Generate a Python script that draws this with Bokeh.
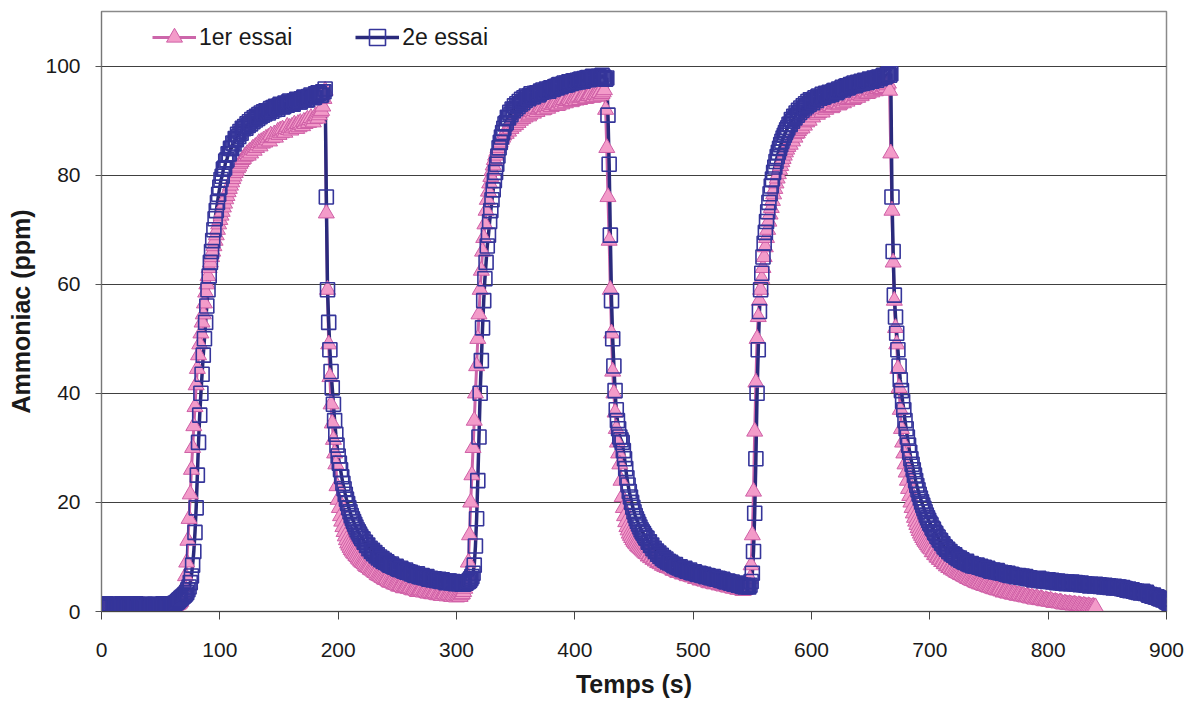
from bokeh.plotting import figure
from bokeh.models import Range1d, FixedTicker, Legend, LegendItem, ColumnDataSource
from bokeh.embed import file_html
from bokeh.resources import INLINE

# ---------------- data ----------------
sample_step_s = 1  # one reading per second

series_names = ["1er essai", "2e essai"]

# Ammoniac (ppm), 1er essai, t = 0, 1, 2, ... s
essai_1 = [
    0.6, 0.8, 0.9, 0.5, 0.5, 0.9, 0.8, 0.6, 1.0, 0.7, 0.6, 0.9, 0.7, 0.5, 0.9, 0.8, 0.5, 0.7, 0.8, 0.6,
    0.7, 0.9, 1.0, 0.6, 0.6, 0.8, 0.8, 0.5, 0.5, 0.9, 0.9, 0.6, 0.7, 0.8, 0.6, 0.5, 1.0, 0.8, 0.7, 0.6,
    0.8, 0.6, 0.5, 0.9, 0.9, 0.7, 0.7, 0.5, 0.6, 0.8, 0.8, 0.9, 1.0, 0.7, 0.7, 0.6, 0.6, 0.8, 0.9, 0.7,
    0.8, 0.9, 1.0, 1.1, 1.2, 1.3, 1.5, 1.8, 2.3, 3.2, 4.5, 6.5, 9.0, 13.0, 17.0, 21.5, 26.0, 30.0, 34.0, 37.5,
    41.5, 44.5, 47.0, 49.0, 51.0, 53.0, 54.5, 56.5, 58.5, 60.0, 61.5, 63.0, 64.0, 65.0, 66.0, 67.0, 68.0, 69.0, 70.0, 71.0,
    71.8, 72.6, 73.3, 74.1, 74.8, 75.6, 76.2, 76.9, 77.5, 78.1, 78.7, 79.3, 79.8, 80.4, 80.8, 81.3, 81.6, 82.1, 82.4, 82.8,
    83.0, 83.4, 83.5, 83.9, 83.6, 84.3, 84.0, 84.6, 84.9, 84.5, 85.2, 85.0, 85.5, 85.9, 85.3, 86.1, 85.8, 86.4, 86.0, 86.7,
    86.4, 86.9, 86.2, 87.3, 86.8, 87.0, 87.5, 86.9, 87.6, 88.0, 87.4, 88.2, 87.7, 88.4, 88.0, 87.8, 88.5, 88.9, 88.3, 88.7,
    88.2, 88.9, 88.6, 89.3, 88.9, 88.5, 89.4, 88.8, 89.6, 89.2, 89.0, 89.8, 89.4, 89.9, 90.2, 89.6, 90.1, 90.5, 90.0, 89.7,
    90.3, 90.9, 90.8, 90.4, 91.0, 91.5, 91.8, 92.6, 94.0, 95.5, 73.0, 59.0, 49.0, 43.0, 38.0, 34.5, 31.5, 29.0, 27.0, 23.0,
    20.5, 19.0, 17.5, 16.5, 15.5, 14.6, 13.8, 13.1, 12.5, 12.1, 11.7, 11.3, 11.0, 10.7, 10.5, 10.2, 10.0, 9.7, 9.5, 9.2,
    9.0, 8.9, 8.7, 8.4, 8.2, 8.1, 8.0, 7.7, 7.6, 7.5, 7.3, 7.1, 7.0, 6.7, 6.6, 6.5, 6.4, 6.2, 6.1, 5.9,
    5.8, 5.9, 5.6, 5.4, 5.3, 5.4, 5.2, 5.0, 5.0, 4.9, 4.8, 4.6, 4.6, 4.7, 4.5, 4.3, 4.3, 4.5, 4.4, 4.2,
    4.2, 4.3, 4.0, 3.9, 4.1, 4.0, 3.8, 3.6, 3.7, 3.9, 3.9, 3.6, 3.5, 3.7, 3.6, 3.4, 3.3, 3.5, 3.4, 3.2,
    3.2, 3.5, 3.4, 3.1, 3.0, 3.2, 3.1, 2.9, 2.9, 3.2, 3.2, 2.9, 2.8, 3.1, 3.0, 2.8, 2.7, 3.0, 2.9, 2.7,
    2.6, 2.9, 2.8, 2.7, 3.0, 3.2, 3.6, 4.2, 5.0, 6.5, 9.0, 14.0, 20.0, 25.0, 30.0, 35.0, 40.0, 45.0, 50.0, 54.5,
    59.0, 62.5, 66.0, 68.5, 71.0, 73.5, 75.5, 77.0, 78.5, 79.7, 80.8, 81.8, 82.8, 83.6, 84.3, 85.0, 85.5, 86.0, 86.5, 86.9,
    87.3, 87.8, 87.6, 88.4, 88.0, 88.9, 88.5, 89.3, 88.9, 89.7, 89.2, 90.1, 89.6, 90.4, 90.0, 90.7, 90.3, 91.1, 90.6, 91.4,
    91.3, 90.8, 91.1, 91.7, 91.6, 91.3, 91.8, 92.2, 91.6, 92.0, 92.1, 92.5, 92.3, 91.9, 92.0, 92.6, 92.5, 92.2, 92.7, 93.0,
    92.5, 92.9, 92.9, 93.3, 93.1, 92.7, 92.8, 93.4, 93.3, 93.0, 93.5, 93.8, 93.2, 93.6, 93.7, 94.0, 93.8, 93.4, 93.6, 94.1,
    94.0, 93.7, 94.1, 94.4, 93.8, 94.2, 94.3, 94.6, 94.4, 94.0, 94.1, 94.5, 94.6, 94.9, 94.5, 94.2, 94.3, 94.8, 94.7, 94.4,
    94.8, 95.1, 94.6, 94.9, 95.2, 95.6, 92.0, 85.0, 76.0, 68.0, 59.0, 51.0, 44.0, 40.0, 36.5, 33.5, 31.0, 29.0, 27.0, 24.0,
    21.0, 19.0, 17.5, 16.4, 15.5, 14.9, 14.3, 13.9, 13.5, 13.1, 12.8, 12.5, 12.3, 12.0, 11.8, 11.6, 11.4, 11.2, 11.0, 10.8,
    10.6, 10.5, 10.1, 10.2, 9.8, 9.9, 9.5, 9.6, 9.2, 9.4, 8.9, 9.1, 8.7, 8.8, 8.4, 8.6, 8.2, 8.4, 8.0, 8.2,
    7.9, 7.9, 7.7, 7.5, 7.5, 7.6, 7.3, 7.1, 7.2, 7.3, 7.0, 6.8, 6.9, 7.0, 6.7, 6.5, 6.6, 6.7, 6.4, 6.3,
    6.3, 6.4, 6.0, 6.1, 6.2, 5.9, 5.7, 5.8, 5.9, 5.6, 5.5, 5.7, 5.6, 5.3, 5.2, 5.4, 5.4, 5.1, 5.0, 5.2,
    5.1, 5.0, 4.8, 4.9, 5.0, 4.7, 4.6, 4.8, 4.7, 4.5, 4.4, 4.6, 4.6, 4.3, 4.2, 4.4, 4.3, 4.1, 4.0, 4.2,
    4.1, 4.0, 3.8, 3.9, 4.0, 4.2, 4.5, 5.0, 6.0, 8.5, 14.0, 22.0, 33.0, 42.0, 50.0, 54.0, 57.0, 59.0, 61.0, 63.0,
    65.0, 66.8, 68.5, 70.0, 71.5, 72.8, 74.0, 75.3, 76.5, 77.5, 78.5, 79.4, 80.2, 81.0, 81.7, 82.4, 83.0, 83.6, 84.2, 84.7,
    85.2, 85.8, 85.6, 86.6, 86.2, 87.3, 86.9, 87.6, 87.7, 88.1, 88.4, 88.9, 88.6, 89.6, 89.1, 89.8, 89.7, 90.5, 90.0, 90.9,
    90.9, 90.6, 91.2, 91.5, 91.6, 91.1, 91.4, 92.0, 91.9, 91.5, 92.2, 92.6, 92.0, 92.3, 92.5, 92.9, 92.7, 92.3, 92.5, 93.0,
    93.0, 93.4, 93.2, 92.8, 93.0, 93.6, 93.5, 93.2, 93.7, 94.0, 93.5, 93.8, 94.0, 94.4, 94.2, 93.8, 94.0, 94.6, 94.5, 94.2,
    94.7, 95.0, 94.5, 94.8, 95.0, 95.4, 95.2, 94.9, 95.0, 95.6, 95.5, 95.2, 95.6, 95.9, 95.4, 95.7, 95.8, 96.2, 96.0, 95.6,
    95.8, 96.3, 96.2, 96.0, 96.5, 96.8, 95.5, 84.0, 73.5, 64.0, 57.0, 52.0, 49.0, 44.5, 41.0, 37.0, 33.5, 31.0, 29.0, 27.0,
    25.5, 24.0, 22.5, 21.2, 20.0, 19.0, 18.0, 17.2, 16.5, 15.9, 15.3, 14.8, 14.3, 13.9, 13.5, 13.1, 12.8, 12.5, 12.2, 11.9,
    11.6, 11.4, 10.9, 10.9, 10.4, 10.3, 9.9, 9.9, 9.5, 9.5, 9.1, 9.1, 8.7, 8.7, 8.3, 8.4, 8.0, 8.0, 7.7, 7.8,
    7.5, 7.4, 7.2, 7.1, 7.0, 6.9, 6.7, 6.7, 6.5, 6.4, 6.3, 6.2, 6.0, 6.0, 5.8, 5.7, 5.6, 5.6, 5.4, 5.3,
    5.2, 5.2, 5.0, 5.1, 4.9, 4.8, 4.7, 4.8, 4.6, 4.5, 4.4, 4.5, 4.3, 4.2, 4.1, 4.2, 4.0, 3.9, 3.9, 4.0,
    3.7, 3.8, 3.5, 3.6, 3.6, 3.4, 3.3, 3.5, 3.4, 3.2, 3.1, 3.3, 3.2, 3.0, 2.9, 3.1, 3.0, 2.8, 2.8, 2.9,
    2.7, 2.6, 2.8, 2.7, 2.5, 2.4, 2.6, 2.5, 2.3, 2.2, 2.5, 2.4, 2.2, 2.1, 2.3, 2.2, 2.0, 1.9, 2.1, 2.0,
    1.9, 1.8, 2.0, 1.9, 1.7, 1.6, 1.8, 1.7, 1.6, 1.5, 1.7, 1.6, 1.4, 1.3, 1.5, 1.4, 1.3, 1.2, 1.4, 1.3,
    1.2, 1.1, 1.3, 1.2, 1.1, 1.0, 1.2, 1.1, 1.0, 0.9, 1.1, 1.0, 0.9, 0.8, 1.0, 0.9, 0.8, 0.7, 0.9, 0.8,
    0.8,
]

# Ammoniac (ppm), 2e essai, t = 0, 1, 2, ... s
essai_2 = [
    1.2, 1.0, 0.9, 1.3, 1.4, 1.1, 1.0, 0.8, 1.1, 1.2, 0.8, 1.3, 1.3, 1.0, 1.2, 0.9, 1.2, 1.4, 0.9, 1.0,
    1.1, 1.3, 1.4, 0.9, 0.9, 1.2, 1.2, 1.0, 1.0, 1.4, 1.3, 0.9, 0.8, 1.2, 1.1, 1.0, 1.2, 1.3, 0.9, 1.1,
    1.0, 1.2, 1.3, 0.9, 1.1, 1.3, 0.9, 1.0, 1.2, 1.1, 1.0, 0.9, 1.4, 1.2, 1.1, 1.3, 1.2, 1.0, 1.3, 1.4,
    1.3, 1.4, 1.5, 1.6, 1.8, 2.0, 2.2, 2.4, 2.6, 2.8, 3.0, 3.2, 3.5, 4.0, 4.5, 5.3, 6.5, 8.5, 11.0, 14.5,
    19.0, 25.0, 31.0, 36.0, 40.0, 43.5, 47.0, 50.0, 53.0, 56.0, 59.0, 61.5, 64.0, 66.0, 68.0, 70.0, 72.0, 73.5, 75.0, 76.5,
    77.8, 79.2, 79.8, 81.1, 81.3, 82.6, 82.8, 83.9, 83.9, 84.9, 84.9, 85.9, 85.7, 86.7, 86.5, 87.5, 87.1, 88.0, 87.7, 88.6,
    88.5, 88.9, 88.6, 89.4, 89.1, 89.8, 89.4, 90.2, 89.8, 90.5, 90.1, 90.8, 90.4, 91.1, 90.7, 91.4, 91.0, 91.6, 91.2, 91.8,
    91.6, 91.4, 91.9, 92.2, 91.7, 92.4, 92.0, 92.6, 92.4, 92.1, 92.7, 93.0, 92.9, 92.5, 92.6, 93.2, 93.1, 92.8, 93.4, 93.6,
    93.3, 93.1, 93.0, 93.6, 93.5, 93.9, 93.7, 93.4, 93.4, 94.0, 93.9, 94.3, 94.1, 93.8, 93.8, 94.4, 94.3, 94.7, 94.5, 94.2,
    94.3, 94.9, 94.8, 95.1, 95.0, 94.6, 94.7, 95.3, 95.3, 95.8, 76.0, 59.0, 53.0, 48.0, 44.0, 41.0, 38.0, 35.0, 32.5, 30.5,
    28.5, 27.2, 26.0, 24.7, 23.5, 22.5, 21.5, 20.6, 19.8, 19.0, 18.3, 17.6, 17.0, 16.5, 16.0, 15.5, 15.0, 14.6, 14.2, 13.8,
    13.4, 13.3, 12.7, 12.7, 12.1, 12.2, 11.5, 11.6, 11.0, 11.2, 10.6, 10.8, 10.2, 10.4, 9.8, 10.0, 9.5, 9.7, 9.2, 9.4,
    9.0, 9.1, 8.8, 8.6, 8.5, 8.7, 8.3, 8.2, 8.1, 8.3, 7.9, 7.8, 7.7, 7.9, 7.6, 7.5, 7.4, 7.6, 7.2, 7.3,
    7.1, 7.2, 6.9, 7.0, 6.8, 6.6, 6.7, 6.9, 6.5, 6.4, 6.4, 6.6, 6.3, 6.2, 6.2, 6.4, 6.0, 5.9, 6.1, 6.0,
    5.8, 6.0, 5.9, 5.7, 5.7, 5.9, 5.6, 5.5, 5.8, 5.6, 5.5, 5.3, 5.4, 5.6, 5.6, 5.3, 5.3, 5.5, 5.2, 5.1,
    5.4, 5.2, 5.1, 5.3, 5.3, 5.0, 5.0, 5.2, 5.2, 5.4, 5.5, 5.7, 6.0, 6.4, 7.0, 8.5, 12.0, 17.0, 24.0, 32.0,
    40.0, 46.0, 52.0, 57.0, 61.0, 64.0, 67.0, 69.0, 71.5, 73.5, 75.5, 77.3, 79.0, 80.5, 82.0, 83.5, 85.0, 86.0, 87.0, 87.8,
    88.6, 89.4, 89.6, 90.6, 90.5, 91.5, 91.1, 92.1, 91.8, 92.7, 92.2, 93.1, 92.6, 93.5, 93.0, 93.9, 93.3, 94.2, 93.7, 94.5,
    94.3, 94.0, 94.6, 94.9, 94.4, 94.4, 95.0, 94.9, 95.1, 94.7, 94.9, 95.4, 95.2, 95.6, 95.3, 95.4, 95.8, 95.6, 95.4, 95.9,
    96.0, 95.7, 95.8, 96.2, 96.3, 96.0, 96.5, 96.6, 96.2, 96.4, 96.7, 96.9, 96.5, 96.9, 96.6, 97.1, 97.0, 96.8, 97.2, 97.3,
    97.0, 97.2, 97.4, 97.1, 97.5, 97.6, 97.3, 97.2, 97.7, 97.5, 97.8, 97.9, 97.5, 97.6, 97.9, 98.1, 97.7, 98.0, 98.0, 97.8,
    98.1, 97.9, 97.9, 98.3, 98.0, 97.8, 97.6, 97.8, 91.0, 82.0, 69.0, 57.0, 50.0, 45.0, 40.5, 37.0, 35.0, 33.5, 32.0, 31.5,
    31.0, 29.5, 28.0, 26.2, 24.5, 23.2, 22.0, 21.0, 20.0, 19.1, 18.3, 17.6, 17.0, 16.5, 16.0, 15.5, 15.0, 14.6, 14.3, 13.9,
    13.5, 13.4, 12.7, 12.8, 12.1, 12.2, 11.5, 11.6, 11.0, 11.1, 10.5, 10.7, 10.1, 10.3, 9.7, 9.9, 9.4, 9.6, 9.1, 9.2,
    8.9, 9.0, 8.7, 8.6, 8.4, 8.6, 8.2, 8.1, 8.0, 8.2, 7.8, 7.7, 7.7, 7.9, 7.5, 7.4, 7.4, 7.6, 7.2, 7.1,
    7.1, 7.3, 7.0, 6.9, 6.8, 7.0, 6.9, 6.7, 6.6, 6.8, 6.5, 6.4, 6.6, 6.5, 6.3, 6.2, 6.2, 6.4, 6.0, 6.1,
    5.9, 6.1, 6.0, 5.8, 5.7, 5.9, 5.6, 5.5, 5.4, 5.6, 5.5, 5.3, 5.2, 5.4, 5.1, 5.0, 5.0, 5.2, 4.8, 4.9,
    4.9, 4.7, 4.6, 4.8, 4.5, 4.7, 4.6, 4.5, 4.8, 5.5, 7.0, 11.0, 18.0, 28.0, 40.0, 48.0, 55.0, 59.0, 62.0, 65.0,
    67.5, 69.5, 71.5, 73.3, 75.0, 76.6, 78.0, 79.3, 80.5, 81.5, 82.5, 83.4, 84.2, 84.9, 85.6, 86.2, 86.8, 87.3, 87.8, 88.3,
    88.7, 89.3, 89.3, 90.2, 89.9, 90.8, 90.5, 91.4, 91.0, 91.9, 91.5, 92.3, 91.9, 92.7, 92.3, 93.1, 92.7, 93.5, 93.0, 93.8,
    93.6, 93.3, 93.9, 94.2, 93.7, 94.3, 94.5, 94.1, 94.3, 94.8, 94.3, 94.5, 95.0, 94.8, 94.6, 95.2, 95.0, 94.8, 95.3, 95.5,
    95.5, 95.1, 95.3, 95.8, 95.6, 95.8, 96.1, 95.6, 95.9, 96.3, 96.4, 96.0, 96.2, 96.6, 96.4, 96.7, 96.9, 96.4, 96.6, 97.0,
    96.7, 96.9, 97.2, 96.8, 97.0, 97.4, 97.2, 97.0, 97.3, 97.6, 97.5, 97.2, 97.4, 97.8, 97.7, 97.4, 97.9, 98.0, 97.7, 97.9,
    98.1, 98.3, 98.0, 98.2, 98.4, 98.6, 98.3, 98.6, 76.0, 66.0, 58.0, 54.0, 51.0, 48.0, 45.0, 42.5, 40.5, 38.5, 37.0, 35.0,
    33.5, 32.0, 30.5, 29.2, 28.0, 27.0, 26.0, 25.0, 24.0, 23.1, 22.3, 21.5, 20.8, 20.1, 19.5, 18.9, 18.3, 17.7, 17.2, 16.7,
    16.2, 15.9, 15.3, 15.1, 14.5, 14.3, 13.8, 13.6, 13.1, 13.0, 12.5, 12.4, 11.9, 11.8, 11.4, 11.4, 11.0, 11.0, 10.6, 10.6,
    10.3, 10.4, 10.0, 9.9, 9.7, 9.8, 9.4, 9.5, 9.2, 9.1, 9.0, 9.2, 8.8, 8.7, 8.6, 8.8, 8.4, 8.5, 8.3, 8.4,
    8.5, 8.2, 8.1, 8.3, 8.0, 7.9, 8.1, 7.8, 7.7, 7.9, 7.6, 7.5, 7.4, 7.6, 7.5, 7.3, 7.3, 7.5, 7.2, 7.1,
    7.2, 7.0, 7.0, 7.1, 6.9, 6.8, 7.0, 6.7, 6.6, 6.8, 6.7, 6.5, 6.6, 6.4, 6.5, 6.6, 6.4, 6.3, 6.5, 6.2,
    6.3, 6.4, 6.1, 6.0, 6.2, 6.1, 6.0, 5.9, 5.8, 6.0, 5.9, 5.8, 6.1, 5.7, 5.7, 5.9, 5.6, 5.8, 5.7, 5.5,
    5.8, 5.6, 5.5, 5.7, 5.4, 5.6, 5.5, 5.3, 5.6, 5.4, 5.3, 5.5, 5.2, 5.4, 5.3, 5.1, 5.4, 5.2, 5.3, 5.1,
    5.4, 5.2, 5.1, 5.3, 5.0, 5.2, 5.1, 4.9, 5.2, 5.0, 4.9, 5.1, 4.8, 5.0, 4.9, 4.7, 5.0, 4.8, 4.9, 4.7,
    5.0, 4.8, 4.7, 4.9, 4.6, 4.8, 4.7, 4.5, 4.8, 4.6, 4.5, 4.7, 4.4, 4.6, 4.5, 4.3, 4.6, 4.4, 4.3, 4.5,
    4.5, 4.3, 4.2, 4.4, 4.1, 4.2, 4.0, 3.9, 4.1, 3.8, 3.9, 4.0, 3.7, 3.8, 3.6, 3.7, 3.5, 3.6, 3.4, 3.5,
    3.7, 3.4, 3.3, 3.5, 3.2, 3.0, 3.1, 2.9, 2.8, 3.0, 2.7, 2.6, 2.7, 2.5, 2.4, 2.3, 2.4, 2.1, 2.2, 2.0,
    1.8, 1.7, 1.5, 1.4, 1.2,
]

x_ticks = [0, 100, 200, 300, 400, 500, 600, 700, 800, 900]
y_ticks = [0, 20, 40, 60, 80, 100]
x_title = "Temps (s)"
y_title = "Ammoniac (ppm)"

# ---------------- figure ----------------
FONT = "Liberation Sans"
PINK_LINE = "#CC66AA"
PINK_FILL = "#F39BC9"
PINK_EDGE = "#CF5FA6"
NAVY_LINE = "#2A2A7C"
NAVY_EDGE = "#35359A"

src1 = ColumnDataSource(dict(t=[i * sample_step_s for i in range(len(essai_1))], y=essai_1))
src2 = ColumnDataSource(dict(t=[i * sample_step_s for i in range(len(essai_2))], y=essai_2))

p = figure(width=1186, height=701,
           x_range=Range1d(0, 900), y_range=Range1d(0, 110),
           output_backend="svg", toolbar_location=None,
           min_border_left=101, min_border_right=20,
           min_border_top=11, min_border_bottom=90,
           background_fill_color="white", border_fill_color="white")

p.outline_line_color = "#8a8a8a"
p.outline_line_width = 1.5

# grid
p.xgrid.visible = False
p.ygrid.grid_line_color = "#404040"
p.ygrid.grid_line_width = 1
p.ygrid.ticker = FixedTicker(ticks=y_ticks)

# axes
p.xaxis.ticker = FixedTicker(ticks=x_ticks)
p.yaxis.ticker = FixedTicker(ticks=y_ticks)
for ax in (p.xaxis[0], p.yaxis[0]):
    ax.minor_tick_line_color = None
    ax.major_tick_in = 0
    ax.major_label_text_font = FONT
    ax.major_label_text_font_size = "21px"
    ax.major_label_text_color = "#1a1a1a"
    ax.axis_label_text_font = FONT
    ax.axis_label_text_font_size = "25px"
    ax.axis_label_text_font_style = "bold"
    ax.axis_label_text_color = "#1a1a1a"
p.xaxis.major_tick_out = 8
p.yaxis.major_tick_out = 6
p.xaxis.axis_line_color = "#444444"
p.xaxis.major_tick_line_color = "#444444"
p.yaxis.axis_line_color = "#777777"
p.yaxis.major_tick_line_color = "#555555"
p.xaxis.major_label_standoff = 23
p.yaxis.major_label_standoff = 15
p.xaxis.axis_label = x_title
p.yaxis.axis_label = y_title
p.xaxis.axis_label_standoff = 10
p.yaxis.axis_label_standoff = 7

# series
l1 = p.line("t", "y", source=src1, line_color=PINK_LINE, line_width=3)
l2 = p.line("t", "y", source=src2, line_color=NAVY_LINE, line_width=3.5)
s1 = p.scatter("t", "y", source=src1, marker="triangle", size=16,
               fill_color=PINK_FILL, line_color=PINK_EDGE, line_width=1)
s2 = p.scatter("t", "y", source=src2, marker="square", size=14,
               fill_alpha=0, line_color=NAVY_EDGE, line_width=1.6)

legend = Legend(items=[LegendItem(label=series_names[0], renderers=[l1, s1]),
                       LegendItem(label=series_names[1], renderers=[l2, s2])],
                orientation="horizontal", location=(46, 549),
                glyph_width=44, glyph_height=40, label_height=40,
                label_standoff=3, spacing=63, padding=5, margin=0,
                label_text_font=FONT, label_text_font_size="23px",
                label_text_color="#1a1a1a",
                background_fill_alpha=0, border_line_alpha=0)
p.add_layout(legend)

open("out.html", "w").write(file_html(p, INLINE))
